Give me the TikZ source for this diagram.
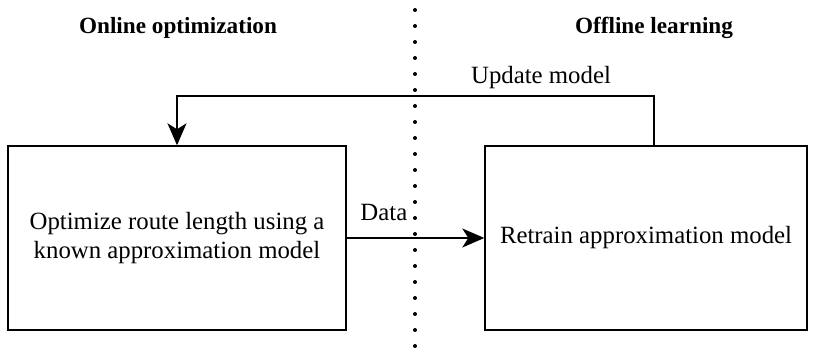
\documentclass[tikz,border=0pt]{standalone}
\usepackage{fontspec}
\setmainfont{Liberation Serif}
\usetikzlibrary{arrows.meta}
\begin{document}
\fontsize{12.4}{14.5}\selectfont
\begin{tikzpicture}[x=0.5pt,y=-0.5pt,
  box/.style={draw,line width=0.7pt,align=center,inner sep=0pt},
  arr/.style={line width=0.7pt,-{Stealth[length=11pt,width=9.5pt,inset=3pt]}},
  title/.style={font=\fontsize{11.6}{14}\selectfont\bfseries}]
\useasboundingbox (0,0) rectangle (817,351);
% the two sides
\node[box,minimum width=169pt,minimum height=92pt] (opt) at (177,238) {Optimize route length using a\\known approximation model};
\node[box,minimum width=161pt,minimum height=92pt] (ret) at (646,238) {Retrain approximation model};
\node[title] (online) at (178,28) {Online optimization};
\node[title] (offline) at (654,28) {Offline learning};

% separation
\coordinate (septop) at (415,10);
\coordinate (sepbot) at (415,351);
\draw[line width=2pt,line cap=round,dash pattern=on 0pt off 8pt] (septop) -- (sepbot);

% connectors
\coordinate (upd) at (654,96);
\draw[arr] (ret.north -| upd) -- (upd) -| (opt.north);
\node (updlabel) at (541,78) {Update model};
\draw[arr] (opt.east) -- (ret.west) node[pos=0.27,above=4pt] (datalabel) {Data};
\end{tikzpicture}
\end{document}
